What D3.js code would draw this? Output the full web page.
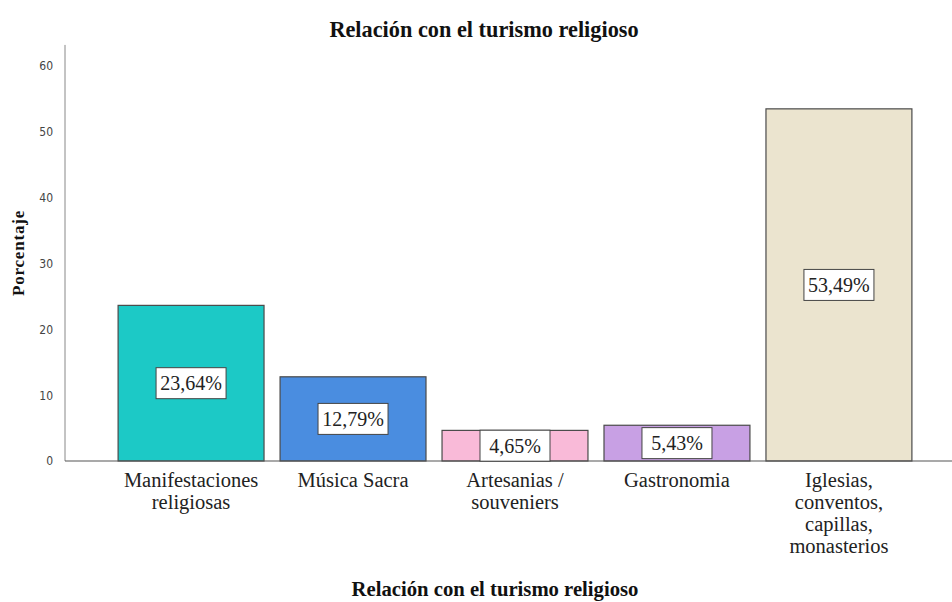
<!DOCTYPE html>
<html><head><meta charset="utf-8">
<script src="https://cdn.jsdelivr.net/npm/d3@7"></script>
<style>body{margin:0;background:#fff}svg{display:block}text{font-family:"Liberation Serif","Times New Roman",serif}</style>
</head><body>
<script>
const categories = [["Manifestaciones","religiosas"],["Música Sacra"],["Artesanias /","souveniers"],["Gastronomia"],["Iglesias,","conventos,","capillas,","monasterios"]];
const values = [23.64, 12.79, 4.65, 5.43, 53.49];
const valueLabels = ["23,64%","12,79%","4,65%","5,43%","53,49%"];
const colors = ["#1cc9c6","#4a8de0","#f9bad8","#c8a0e4","#ebe4cf"];
const yTicks = [0,10,20,30,40,50,60];

const W=952,H=602;
const svg=d3.select("body").append("svg").attr("width",W).attr("height",H);
const x=d3.scaleBand().domain(d3.range(values.length)).range([110,920]).paddingInner(0.099).paddingOuter(0.05);
const y=d3.scaleLinear().domain([0,60]).range([461,66]);

// axes
svg.append("line").attr("x1",65).attr("x2",65).attr("y1",y(63.2)).attr("y2",y(0)).attr("stroke","#888");
const ya=svg.append("g").attr("transform","translate(65,0)").call(d3.axisLeft(y).tickValues(yTicks).tickSize(0).tickPadding(12));
ya.select(".domain").remove();
ya.selectAll("text").style("font-family","'Liberation Sans Narrow','DejaVu Sans Condensed',sans-serif").attr("font-size",12).attr("fill","#444");

// bars
svg.selectAll("rect.bar").data(values).join("rect").attr("class","bar")
 .attr("x",(d,i)=>x(i)).attr("width",x.bandwidth())
 .attr("y",d=>y(d)).attr("height",d=>y(0)-y(d))
 .attr("fill",(d,i)=>colors[i]).attr("stroke","#4a4a4a").attr("stroke-width",1.2);

svg.append("line").attr("x1",65).attr("x2",W).attr("y1",y(0)).attr("y2",y(0)).attr("stroke","#555").attr("stroke-width",1.2);

// value labels
const lg=svg.selectAll("g.lab").data(values).join("g").attr("class","lab")
 .attr("transform",(d,i)=>`translate(${x(i)+x.bandwidth()/2},${Math.min((y(d)+y(0))/2, y(0)-15)})`);
lg.append("rect").attr("x",-35).attr("y",-15.5).attr("width",70).attr("height",31).attr("fill","#fff").attr("stroke","#444").attr("stroke-width",1);
lg.append("text").text((d,i)=>valueLabels[i]).attr("text-anchor","middle").attr("dy","0.35em")
 .attr("font-size",20).attr("fill","#222");

// category labels
const cg=svg.selectAll("text.cat").data(categories).join("text").attr("class","cat")
 .attr("text-anchor","middle").attr("font-size",20.5).attr("fill","#222");
cg.each(function(lines,i){
  const t=d3.select(this);
  lines.forEach((l,j)=>t.append("tspan").attr("x",x(i)+x.bandwidth()/2).attr("y",487+j*22).text(l));
});

// titles
svg.append("text").attr("x",484).attr("y",37).attr("text-anchor","middle").attr("font-weight","bold").attr("font-size",22.3).attr("fill","#111").text("Relación con el turismo religioso");
svg.append("text").attr("x",495).attr("y",596).attr("text-anchor","middle").attr("font-weight","bold").attr("font-size",20.7).attr("fill","#111").text("Relación con el turismo religioso");
svg.append("text").attr("transform","translate(24,253) rotate(-90)").attr("text-anchor","middle").attr("font-weight","bold").attr("font-size",17).attr("letter-spacing",0.8).attr("fill","#111").text("Porcentaje");
</script>
</body></html>
